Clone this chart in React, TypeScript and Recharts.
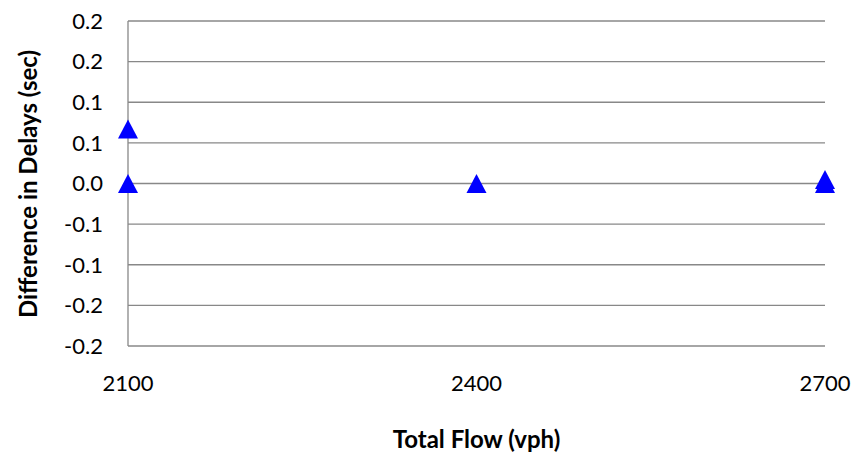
import React from "react";
import {
  ScatterChart,
  Scatter,
  XAxis,
  YAxis,
  CartesianGrid,
} from "recharts";

// values
const flows = [2100, 2100, 2400, 2700, 2700];
const delayDiffs = [0.067, 0, 0, 0, 0.005];

const xTicks = [2100, 2400, 2700];
const yTicks = [-0.2, -0.15, -0.1, -0.05, 0, 0.05, 0.1, 0.15, 0.2];
const yTickLabels = ["-0.2", "-0.2", "-0.1", "-0.1", "0.0", "0.1", "0.1", "0.2", "0.2"];

const points = flows.map((flow, i) => ({ flow, diff: delayDiffs[i] }));

const FONT = "Lato, 'Open Sans', sans-serif";
const GRID = "#888888";

// Excel style triangle marker, centred on the point
const Triangle = (props: any) => {
  const { cx, cy } = props;
  const w = 10;
  const h = 9.5;
  return (
    <polygon
      points={`${cx},${cy - h} ${cx + w},${cy + h} ${cx - w},${cy + h}`}
      fill="#0000FF"
    />
  );
};

export default function App() {
  return (
    <div style={{ position: "absolute", left: 0, top: 0, width: 859, height: 459, background: "#fff" }}>
      <ScatterChart
        width={859}
        height={459}
        margin={{ top: 21, right: 34, bottom: 0, left: 0 }}
      >
        <CartesianGrid vertical={false} stroke={GRID} strokeWidth={1.3} />
        <XAxis
          type="number"
          dataKey="flow"
          domain={[2100, 2700]}
          ticks={xTicks}
          height={113}
          axisLine={false}
          tickLine={false}
          tickSize={0}
          tickMargin={29}
          tick={{ fill: "#000", fontSize: 22, fontFamily: FONT }}
          label={{
            value: "Total Flow (vph)",
            position: "insideBottom",
            offset: 11,
            style: { fill: "#000", fontSize: 24, fontWeight: 700, fontFamily: FONT },
          }}
        />
        <YAxis
          type="number"
          dataKey="diff"
          domain={[-0.2, 0.2]}
          ticks={yTicks}
          width={128}
          interval={0}
          stroke={GRID}
          strokeWidth={1.3}
          tickLine={false}
          tickSize={0}
          tickMargin={25}
          tickFormatter={(v: number) => yTickLabels[yTicks.indexOf(v)]}
          tick={{ fill: "#000", fontSize: 22, fontFamily: FONT }}
          label={{
            content: () => (
              <text
                x={27}
                y={184}
                transform="rotate(-90 27 184)"
                textAnchor="middle"
                dominantBaseline="central"
                fill="#000"
                fontSize={24}
                fontWeight={700}
                fontFamily={FONT}
              >
                Difference in Delays (sec)
              </text>
            ),
          }}
        />
        <Scatter data={points} shape={<Triangle />} isAnimationActive={false} />
      </ScatterChart>
    </div>
  );
}
